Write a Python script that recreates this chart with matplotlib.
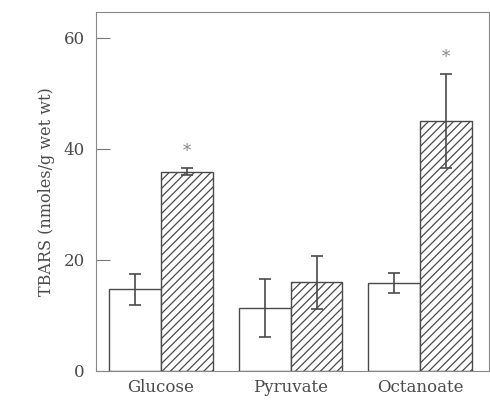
import matplotlib
matplotlib.use("Agg")
import matplotlib.pyplot as plt
import numpy as np

categories = ["Glucose", "Pyruvate", "Octanoate"]
control = [14.7, 11.4, 15.8]
control_err = [2.8, 5.2, 1.8]
treated = [35.9, 16.0, 45.0]
treated_err = [0.6, 4.8, 8.5]
significant = [True, False, True]
yticks = [0, 20, 40, 60]

plt.rcParams['font.family'] = ['DejaVu Serif']
plt.rcParams['hatch.linewidth'] = 0.9
ink = '#4a4a4a'
plt.rcParams['hatch.color'] = ink

fig = plt.figure(figsize=(4.9, 4.19), dpi=100)
ax = fig.add_axes([0.196, 0.1146, 0.802, 0.857])

x = np.arange(len(categories))
w = 0.4
ax.bar(x - w/2, control, width=w, facecolor='white', edgecolor=ink, linewidth=1.0)
ax.bar(x + w/2, treated, width=w, facecolor='white', edgecolor=ink, linewidth=1.0, hatch='////')
ax.errorbar(x - w/2, control, yerr=control_err, fmt='none', ecolor=ink, elinewidth=1.2, capsize=4, capthick=1.2)
ax.errorbar(x + w/2, treated, yerr=treated_err, fmt='none', ecolor=ink, elinewidth=1.2, capsize=4, capthick=1.2)
for xi, t, e, s in zip(x, treated, treated_err, significant):
    if s:
        ax.text(xi + w/2, t + e + 1.5, '*', ha='center', va='bottom', color='#888888', fontsize=12)

ax.set_xlim(-0.5, 2.53)
ax.set_ylim(0, 64.7)
ax.set_yticks(yticks)
ax.set_xticks(x)
ax.set_xticklabels(categories, fontsize=12, color=ink)
ax.tick_params(axis='y', direction='in', length=10, width=0.8, color='#777777', labelsize=12, labelcolor=ink, pad=8)
ax.tick_params(axis='x', length=0, pad=6)
ax.set_ylabel('TBARS (nmoles/g wet wt)', fontsize=11.5, color=ink, labelpad=6)
for sp in ax.spines.values():
    sp.set_color('#888888')
    sp.set_linewidth(0.8)

fig.savefig('out.png', dpi=100)
